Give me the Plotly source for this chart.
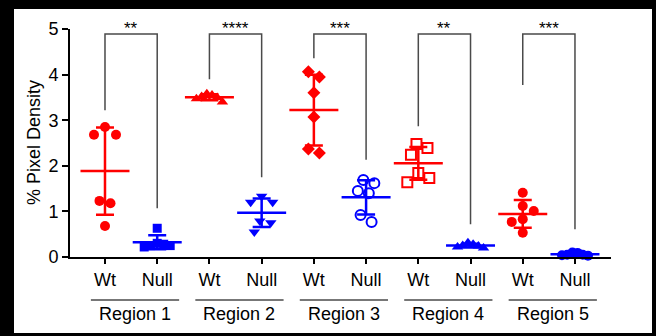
import math
import plotly.graph_objects as go

# ---------------- data ----------------
regions = ["Region 1", "Region 2", "Region 3", "Region 4", "Region 5"]
genotypes = ["Wt", "Null"]

wt_r1 = [2.85, 2.68, 2.68, 1.23, 1.18, 0.68]
null_r1 = [0.63, 0.30, 0.28, 0.25, 0.22, 0.25]
wt_r2 = [3.58, 3.55, 3.50, 3.47, 3.40, 3.52]
null_r2 = [1.33, 1.20, 1.20, 0.75, 0.55, 0.79]
wt_r3 = [4.06, 3.95, 3.60, 3.07, 2.28, 2.37]
null_r3 = [1.69, 1.62, 1.45, 1.40, 0.92, 0.77]
wt_r4 = [2.39, 2.48, 2.24, 1.84, 1.73, 1.64]
null_r4 = [0.28, 0.31, 0.22, 0.20, 0.25, 0.24]
wt_r5 = [1.41, 1.12, 1.01, 0.83, 0.77, 0.53]
null_r5 = [0.04, 0.10, 0.05, 0.03, 0.09, 0.05]

sig_labels = ["**", "****", "***", "**", "***"]
bracket_top = 4.89
bracket_left_bottom = [3.22, 3.90, 4.36, 2.87, 3.77]
bracket_right_bottom = [1.07, 1.75, 2.13, 0.72, 0.61]

y_ticks = [0, 1, 2, 3, 4, 5]

# ---------------- styling ----------------
W, H = 656, 336
ML, MR, MT, MB = 70, 45, 29, 79
XR = [-0.67, 9.69]
YR = [0, 5]
XPX = (W - ML - MR) / (XR[1] - XR[0])
YPX = (H - MT - MB) / (YR[1] - YR[0])
MAX_SPAN = 26  # px, widest a swarm row may get

RED = "#FF0000"
BLUE = "#0000FF"
FONT = "Arial, Liberation Sans, sans-serif"
FS = 18

series = [
    (wt_r1, RED, "circle", 10), (null_r1, BLUE, "square", 9),
    (wt_r2, RED, "triangle-up", 10), (null_r2, BLUE, "triangle-down", 10),
    (wt_r3, RED, "diamond", 10), (null_r3, BLUE, "circle-open", 10),
    (wt_r4, RED, "square-open", 10), (null_r4, BLUE, "triangle-up", 10),
    (wt_r5, RED, "circle", 10), (null_r5, BLUE, "circle", 10),
]


def swarm(vals, diam):
    """Deterministic beeswarm offsets (data units)."""
    n = len(vals)
    order = sorted(range(n), key=lambda i: -vals[i])
    placed = {}
    cands = [0.0]
    for k in range(1, 20):
        cands += [k * diam / 2, -k * diam / 2]
    for i in order:
        y = vals[i] * YPX
        for c in cands:
            if all(math.hypot(c - placed[j], y - vals[j] * YPX) >= diam for j in placed):
                placed[i] = c
                break
    parent = list(range(n))

    def find(a):
        while parent[a] != a:
            a = parent[a]
        return a
    for a in range(n):
        for b in range(a + 1, n):
            if abs(vals[a] - vals[b]) * YPX < diam:
                parent[find(a)] = find(b)
    comps = {}
    for i in range(n):
        comps.setdefault(find(i), []).append(i)
    for members in comps.values():
        m = sum(placed[i] for i in members) / len(members)
        for i in members:
            placed[i] -= m
        span = max(placed[i] for i in members) - min(placed[i] for i in members)
        if span > MAX_SPAN:
            for i in members:
                placed[i] *= MAX_SPAN / span
    return [placed[i] / XPX for i in range(n)]


def mean_sd(v):
    m = sum(v) / len(v)
    sd = math.sqrt(sum((x - m) ** 2 for x in v) / (len(v) - 1))
    return m, sd


fig = go.Figure()

for idx, (vals, col, sym, sz) in enumerate(series):
    offs = swarm(vals, sz + 1)
    mk = dict(color=col, size=sz, symbol=sym)
    if sym.endswith("open"):
        mk["line"] = dict(color=col, width=2)
    fig.add_trace(go.Scatter(
        x=[idx + o for o in offs], y=vals, mode="markers", cliponaxis=False,
        marker=mk, showlegend=False, hoverinfo="y"))
    m, sd = mean_sd(vals)
    fig.add_trace(go.Scatter(
        x=[idx], y=[m], mode="markers", cliponaxis=False,
        marker=dict(symbol="line-ew", size=35, line=dict(color=col, width=2.5)),
        error_y=dict(type="data", array=[sd], visible=True, color=col,
                     thickness=2.5, width=9),
        showlegend=False, hoverinfo="y"))

# significance brackets
for r in range(len(regions)):
    x0, x1 = 2 * r, 2 * r + 1
    fig.add_trace(go.Scatter(
        x=[x0, x0, x1, x1],
        y=[bracket_left_bottom[r], bracket_top, bracket_top, bracket_right_bottom[r]],
        mode="lines", line=dict(color="#4a4a4a", width=1.5),
        showlegend=False, hoverinfo="skip"))
    fig.add_annotation(x=(x0 + x1) / 2, y=bracket_top, xref="x", yref="y",
                       text=sig_labels[r], showarrow=False, yanchor="bottom",
                       yshift=-6, font=dict(family=FONT, size=17, color="black"))

# region group lines & labels
for r, name in enumerate(regions):
    c = 2 * r + 0.5 + 0.075
    fig.add_shape(type="line", xref="x", yref="paper",
                  x0=c - 0.845, x1=c + 0.845, y0=-0.189, y1=-0.189,
                  line=dict(color="#4a4a4a", width=1.5))
    fig.add_annotation(x=c, y=-0.25, xref="x", yref="paper", text=name,
                       showarrow=False, xanchor="center", yanchor="middle",
                       font=dict(family=FONT, size=FS, color="black"))

# y title
fig.add_annotation(x=(34 - ML) / (W - ML - MR), y=0.5, xref="paper", yref="paper",
                   text="% Pixel Density", textangle=-90, showarrow=False,
                   xanchor="center", yanchor="middle",
                   font=dict(family=FONT, size=FS, color="black"))

# white card inside black frame
pw, ph = W - ML - MR, H - MT - MB
fig.add_shape(type="rect", xref="paper", yref="paper", layer="below",
              x0=(14 - ML) / pw, x1=(652 - ML) / pw,
              y0=-(333 - (H - MB)) / ph, y1=((H - MB) - 9) / ph,
              fillcolor="white", line=dict(width=0))

fig.update_layout(
    width=W, height=H,
    margin=dict(l=ML, r=MR, t=MT, b=MB),
    paper_bgcolor="black", plot_bgcolor="white",
    font=dict(family=FONT, size=FS, color="black"),
    xaxis=dict(range=XR, tickmode="array", tickvals=list(range(10)),
               ticktext=genotypes * 5, showgrid=False, zeroline=False,
               showline=True, linecolor="black", linewidth=2,
               ticks="outside", ticklen=5, tickwidth=2, tickcolor="black",
               tickfont=dict(family=FONT, size=FS, color="black")),
    yaxis=dict(range=YR, tickmode="array", tickvals=y_ticks, showgrid=False,
               zeroline=False, showline=True, linecolor="black", linewidth=2,
               ticks="outside", ticklen=6, tickwidth=2, tickcolor="black",
               tickfont=dict(family=FONT, size=FS, color="black")),
)

fig.write_html(
    "out.html",
    config={"displayModeBar": False},
    post_script="document.body.style.margin='0';document.body.style.padding='0';"
                "document.body.style.background='black';"
                "document.body.style.overflow='hidden';",
)
